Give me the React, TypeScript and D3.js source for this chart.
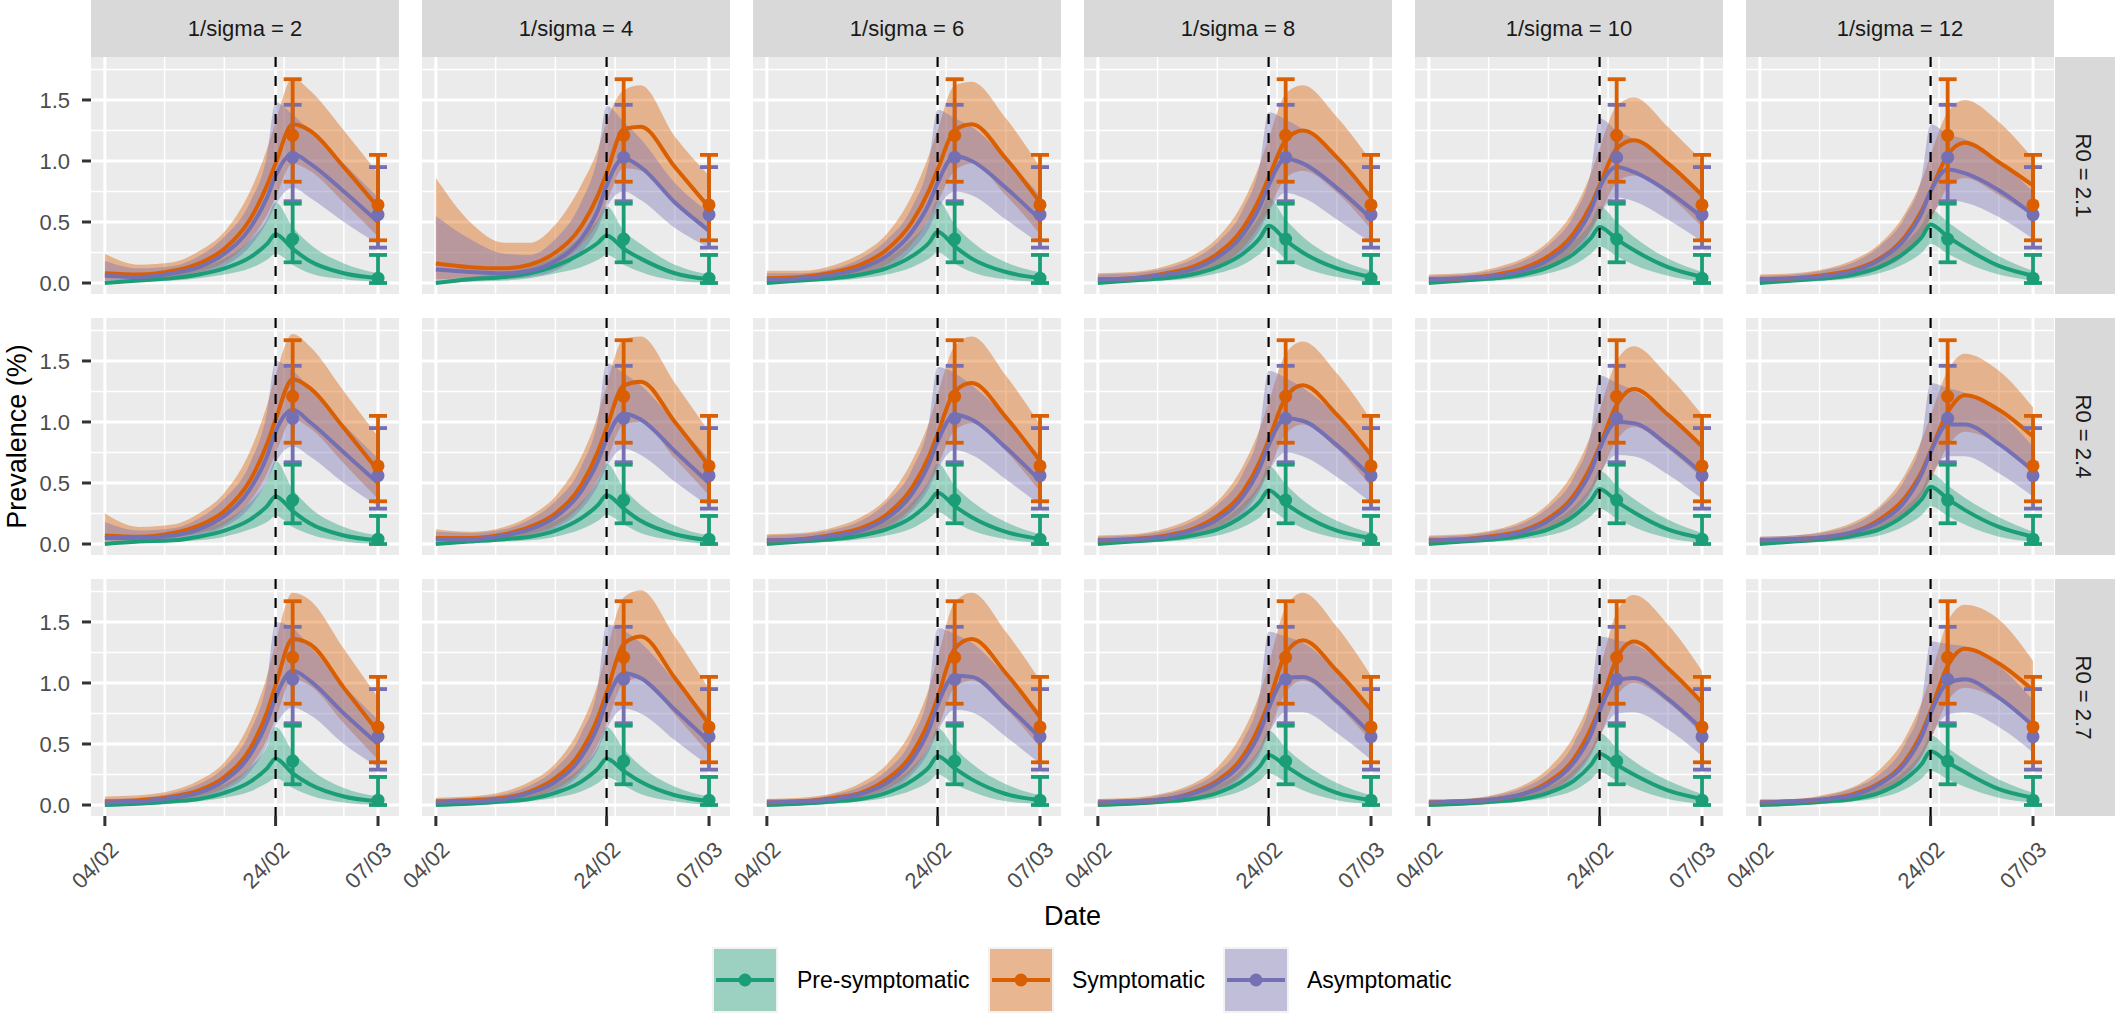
import React from 'react';
import * as d3 from 'd3';

// model output dates (curves) and survey dates (points)
const dates = ['2020-02-04', '2020-02-08', '2020-02-12', '2020-02-15', '2020-02-18', '2020-02-21',
    '2020-02-23', '2020-02-24', '2020-02-26', '2020-02-28', '2020-03-03', '2020-03-07'];
const obsDates = ['2020-02-26', '2020-03-07'];
const lockdownDate = '2020-02-24';
const xTickDates = ['2020-02-04', '2020-02-24', '2020-03-07'];
const xMinorDates = ['2020-02-11', '2020-02-18', '2020-02-25', '2020-03-03'];
const yTicks = [0, 0.5, 1, 1.5];
const yMinor = [0.25, 0.75, 1.25, 1.75];

const sigmaLabels = ['1/sigma = 2', '1/sigma = 4', '1/sigma = 6', '1/sigma = 8', '1/sigma = 10', '1/sigma = 12'];
const r0Labels = ['R0 = 2.1', 'R0 = 2.4', 'R0 = 2.7'];
const classes = ['Pre-symptomatic', 'Symptomatic', 'Asymptomatic'];
const colours = ['#1B9E77', '#D95F02', '#7570B3'];

// one row per panel, rows R0 = 2.1, 2.4, 2.7, columns 1/sigma = 2..12
const preMean = [
    [0.0, 0.02, 0.04, 0.07, 0.12, 0.21, 0.32, 0.40, 0.28, 0.18, 0.08, 0.04],
    [0.0, 0.03, 0.05, 0.08, 0.14, 0.24, 0.33, 0.39, 0.28, 0.20, 0.08, 0.03],
    [0.0, 0.02, 0.04, 0.07, 0.12, 0.22, 0.33, 0.42, 0.30, 0.20, 0.09, 0.04],
    [0.0, 0.02, 0.04, 0.07, 0.13, 0.24, 0.37, 0.47, 0.35, 0.25, 0.12, 0.05],
    [0.0, 0.02, 0.04, 0.07, 0.13, 0.24, 0.37, 0.46, 0.36, 0.27, 0.13, 0.05],
    [0.0, 0.02, 0.04, 0.07, 0.13, 0.25, 0.38, 0.48, 0.38, 0.29, 0.14, 0.06],
    [0.0, 0.02, 0.03, 0.06, 0.11, 0.20, 0.31, 0.39, 0.27, 0.17, 0.07, 0.03],
    [0.0, 0.02, 0.04, 0.06, 0.11, 0.21, 0.32, 0.40, 0.29, 0.19, 0.08, 0.03],
    [0.0, 0.02, 0.04, 0.07, 0.12, 0.22, 0.34, 0.42, 0.31, 0.22, 0.10, 0.04],
    [0.0, 0.02, 0.04, 0.07, 0.12, 0.23, 0.35, 0.44, 0.33, 0.24, 0.11, 0.05],
    [0.0, 0.02, 0.04, 0.07, 0.12, 0.23, 0.36, 0.45, 0.35, 0.26, 0.12, 0.05],
    [0.0, 0.02, 0.04, 0.07, 0.12, 0.24, 0.37, 0.47, 0.37, 0.28, 0.14, 0.06],
    [0.0, 0.01, 0.03, 0.05, 0.10, 0.19, 0.30, 0.38, 0.26, 0.17, 0.07, 0.03],
    [0.0, 0.01, 0.03, 0.05, 0.10, 0.19, 0.30, 0.38, 0.28, 0.19, 0.08, 0.03],
    [0.0, 0.01, 0.03, 0.05, 0.10, 0.20, 0.31, 0.40, 0.30, 0.21, 0.09, 0.04],
    [0.0, 0.01, 0.03, 0.05, 0.10, 0.20, 0.32, 0.41, 0.32, 0.23, 0.10, 0.04],
    [0.0, 0.01, 0.03, 0.05, 0.10, 0.20, 0.33, 0.42, 0.33, 0.25, 0.12, 0.05],
    [0.0, 0.01, 0.03, 0.05, 0.10, 0.21, 0.34, 0.44, 0.35, 0.27, 0.13, 0.06],
];
const preLow = [
    [0.0, 0.01, 0.02, 0.04, 0.07, 0.12, 0.19, 0.24, 0.15, 0.08, 0.03, 0.01],
    [0.0, 0.01, 0.02, 0.04, 0.08, 0.13, 0.19, 0.23, 0.15, 0.09, 0.02, 0.0],
    [0.0, 0.01, 0.02, 0.04, 0.07, 0.13, 0.20, 0.25, 0.16, 0.09, 0.03, 0.01],
    [0.0, 0.01, 0.02, 0.04, 0.08, 0.15, 0.24, 0.30, 0.20, 0.13, 0.05, 0.01],
    [0.0, 0.01, 0.02, 0.04, 0.08, 0.15, 0.24, 0.30, 0.22, 0.15, 0.06, 0.01],
    [0.0, 0.01, 0.02, 0.04, 0.08, 0.16, 0.25, 0.32, 0.24, 0.17, 0.07, 0.02],
    [0.0, 0.01, 0.02, 0.03, 0.06, 0.12, 0.18, 0.23, 0.14, 0.08, 0.02, 0.0],
    [0.0, 0.01, 0.02, 0.03, 0.06, 0.12, 0.19, 0.24, 0.16, 0.09, 0.03, 0.0],
    [0.0, 0.01, 0.02, 0.04, 0.07, 0.13, 0.21, 0.26, 0.18, 0.11, 0.04, 0.01],
    [0.0, 0.01, 0.02, 0.04, 0.07, 0.14, 0.22, 0.28, 0.20, 0.13, 0.05, 0.01],
    [0.0, 0.01, 0.02, 0.04, 0.07, 0.14, 0.23, 0.29, 0.21, 0.14, 0.05, 0.01],
    [0.0, 0.01, 0.02, 0.04, 0.07, 0.15, 0.24, 0.31, 0.23, 0.16, 0.06, 0.02],
    [0.0, 0.0, 0.01, 0.03, 0.06, 0.11, 0.18, 0.22, 0.14, 0.08, 0.02, 0.0],
    [0.0, 0.0, 0.01, 0.03, 0.06, 0.11, 0.18, 0.23, 0.16, 0.09, 0.03, 0.0],
    [0.0, 0.0, 0.01, 0.03, 0.06, 0.12, 0.19, 0.25, 0.17, 0.11, 0.03, 0.01],
    [0.0, 0.0, 0.01, 0.03, 0.06, 0.12, 0.20, 0.26, 0.19, 0.12, 0.04, 0.01],
    [0.0, 0.0, 0.01, 0.03, 0.06, 0.12, 0.21, 0.27, 0.20, 0.14, 0.05, 0.01],
    [0.0, 0.0, 0.01, 0.03, 0.06, 0.13, 0.22, 0.28, 0.21, 0.15, 0.06, 0.02],
];
const preHigh = [
    [0.01, 0.04, 0.07, 0.12, 0.20, 0.35, 0.52, 0.66, 0.46, 0.32, 0.16, 0.08],
    [0.01, 0.05, 0.08, 0.13, 0.22, 0.38, 0.52, 0.63, 0.43, 0.32, 0.15, 0.07],
    [0.01, 0.04, 0.07, 0.12, 0.20, 0.36, 0.52, 0.68, 0.48, 0.34, 0.17, 0.09],
    [0.01, 0.04, 0.07, 0.12, 0.21, 0.37, 0.56, 0.70, 0.52, 0.38, 0.20, 0.10],
    [0.01, 0.03, 0.06, 0.11, 0.19, 0.34, 0.50, 0.63, 0.50, 0.38, 0.20, 0.09],
    [0.01, 0.03, 0.06, 0.10, 0.18, 0.33, 0.48, 0.60, 0.50, 0.40, 0.22, 0.10],
    [0.01, 0.04, 0.06, 0.11, 0.19, 0.34, 0.52, 0.68, 0.45, 0.30, 0.14, 0.07],
    [0.01, 0.04, 0.06, 0.11, 0.19, 0.34, 0.52, 0.66, 0.46, 0.32, 0.15, 0.07],
    [0.01, 0.04, 0.06, 0.11, 0.19, 0.34, 0.52, 0.66, 0.48, 0.35, 0.18, 0.08],
    [0.01, 0.03, 0.06, 0.10, 0.18, 0.33, 0.50, 0.64, 0.49, 0.36, 0.19, 0.09],
    [0.01, 0.03, 0.05, 0.10, 0.17, 0.31, 0.47, 0.60, 0.48, 0.37, 0.20, 0.09],
    [0.01, 0.03, 0.05, 0.09, 0.16, 0.30, 0.45, 0.58, 0.48, 0.38, 0.22, 0.10],
    [0.01, 0.03, 0.05, 0.09, 0.17, 0.31, 0.48, 0.64, 0.44, 0.30, 0.14, 0.07],
    [0.01, 0.03, 0.05, 0.09, 0.17, 0.31, 0.48, 0.64, 0.46, 0.32, 0.15, 0.07],
    [0.01, 0.03, 0.05, 0.09, 0.17, 0.31, 0.48, 0.63, 0.47, 0.34, 0.17, 0.08],
    [0.01, 0.03, 0.05, 0.09, 0.16, 0.30, 0.47, 0.61, 0.47, 0.35, 0.18, 0.08],
    [0.01, 0.03, 0.05, 0.08, 0.15, 0.29, 0.45, 0.59, 0.47, 0.36, 0.20, 0.09],
    [0.01, 0.03, 0.05, 0.08, 0.15, 0.28, 0.44, 0.57, 0.47, 0.37, 0.21, 0.10],
];

const symMean = [
    [0.08, 0.07, 0.10, 0.16, 0.28, 0.52, 0.80, 0.98, 1.30, 1.25, 0.95, 0.62],
    [0.16, 0.13, 0.12, 0.15, 0.25, 0.46, 0.72, 0.90, 1.26, 1.28, 0.95, 0.62],
    [0.04, 0.05, 0.09, 0.15, 0.27, 0.50, 0.76, 0.93, 1.25, 1.30, 1.02, 0.66],
    [0.03, 0.04, 0.08, 0.13, 0.24, 0.45, 0.70, 0.86, 1.17, 1.25, 1.03, 0.70],
    [0.03, 0.04, 0.07, 0.12, 0.22, 0.41, 0.64, 0.80, 1.10, 1.17, 0.98, 0.72],
    [0.03, 0.04, 0.07, 0.11, 0.20, 0.38, 0.60, 0.75, 1.05, 1.15, 0.99, 0.80],
    [0.07, 0.06, 0.09, 0.15, 0.27, 0.52, 0.82, 1.02, 1.35, 1.28, 0.95, 0.60],
    [0.05, 0.05, 0.08, 0.14, 0.25, 0.48, 0.76, 0.95, 1.30, 1.33, 1.00, 0.64],
    [0.03, 0.04, 0.08, 0.13, 0.24, 0.46, 0.72, 0.90, 1.25, 1.32, 1.04, 0.68],
    [0.03, 0.04, 0.07, 0.12, 0.23, 0.43, 0.68, 0.85, 1.20, 1.30, 1.06, 0.73],
    [0.03, 0.04, 0.07, 0.11, 0.21, 0.40, 0.64, 0.80, 1.14, 1.27, 1.06, 0.80],
    [0.03, 0.04, 0.06, 0.10, 0.20, 0.38, 0.60, 0.76, 1.08, 1.22, 1.10, 0.88],
    [0.03, 0.04, 0.07, 0.12, 0.23, 0.46, 0.76, 0.98, 1.36, 1.32, 0.96, 0.60],
    [0.03, 0.04, 0.06, 0.11, 0.22, 0.44, 0.72, 0.92, 1.32, 1.38, 1.04, 0.66],
    [0.02, 0.03, 0.06, 0.10, 0.21, 0.42, 0.69, 0.88, 1.28, 1.36, 1.08, 0.72],
    [0.02, 0.03, 0.05, 0.10, 0.20, 0.40, 0.66, 0.84, 1.24, 1.35, 1.10, 0.78],
    [0.02, 0.03, 0.05, 0.09, 0.19, 0.38, 0.63, 0.80, 1.20, 1.34, 1.12, 0.84],
    [0.02, 0.03, 0.05, 0.09, 0.18, 0.36, 0.60, 0.77, 1.14, 1.28, 1.16, 0.94],
];
const symLow = [
    [0.02, 0.03, 0.05, 0.09, 0.17, 0.35, 0.56, 0.70, 0.98, 0.92, 0.66, 0.38],
    [0.03, 0.04, 0.05, 0.08, 0.15, 0.31, 0.50, 0.66, 0.94, 0.92, 0.66, 0.40],
    [0.01, 0.02, 0.04, 0.08, 0.15, 0.32, 0.52, 0.66, 0.92, 0.98, 0.72, 0.40],
    [0.01, 0.02, 0.04, 0.07, 0.14, 0.29, 0.48, 0.60, 0.86, 0.92, 0.74, 0.44],
    [0.01, 0.02, 0.03, 0.06, 0.13, 0.27, 0.44, 0.56, 0.82, 0.88, 0.72, 0.46],
    [0.01, 0.02, 0.03, 0.06, 0.12, 0.25, 0.41, 0.52, 0.78, 0.86, 0.72, 0.55],
    [0.02, 0.03, 0.05, 0.09, 0.16, 0.35, 0.58, 0.74, 1.02, 0.95, 0.66, 0.37],
    [0.01, 0.02, 0.04, 0.08, 0.15, 0.32, 0.53, 0.68, 0.98, 1.00, 0.70, 0.40],
    [0.01, 0.02, 0.04, 0.07, 0.14, 0.30, 0.50, 0.64, 0.93, 0.99, 0.76, 0.43],
    [0.01, 0.02, 0.03, 0.07, 0.14, 0.28, 0.47, 0.60, 0.90, 0.98, 0.78, 0.47],
    [0.01, 0.02, 0.03, 0.06, 0.13, 0.26, 0.44, 0.56, 0.85, 0.96, 0.78, 0.54],
    [0.01, 0.02, 0.03, 0.06, 0.12, 0.25, 0.41, 0.53, 0.80, 0.92, 0.82, 0.60],
    [0.01, 0.02, 0.03, 0.07, 0.14, 0.31, 0.54, 0.71, 1.03, 0.98, 0.67, 0.37],
    [0.01, 0.02, 0.03, 0.06, 0.13, 0.29, 0.50, 0.66, 1.00, 1.04, 0.74, 0.42],
    [0.01, 0.01, 0.03, 0.06, 0.13, 0.28, 0.48, 0.62, 0.96, 1.02, 0.79, 0.47],
    [0.01, 0.01, 0.03, 0.05, 0.12, 0.26, 0.45, 0.59, 0.92, 1.02, 0.82, 0.52],
    [0.01, 0.01, 0.02, 0.05, 0.11, 0.25, 0.43, 0.56, 0.89, 1.00, 0.84, 0.58],
    [0.01, 0.01, 0.02, 0.05, 0.11, 0.24, 0.41, 0.54, 0.85, 0.96, 0.86, 0.66],
];
const symHigh = [
    [0.24, 0.15, 0.17, 0.26, 0.42, 0.75, 1.10, 1.32, 1.68, 1.58, 1.25, 0.90],
    [0.86, 0.50, 0.33, 0.33, 0.48, 0.80, 1.10, 1.32, 1.58, 1.62, 1.20, 0.88],
    [0.10, 0.10, 0.15, 0.24, 0.40, 0.72, 1.05, 1.25, 1.62, 1.65, 1.35, 0.95],
    [0.08, 0.09, 0.14, 0.22, 0.37, 0.66, 0.98, 1.18, 1.55, 1.62, 1.36, 1.00],
    [0.07, 0.08, 0.13, 0.20, 0.34, 0.60, 0.90, 1.10, 1.45, 1.52, 1.28, 1.00],
    [0.07, 0.08, 0.12, 0.19, 0.32, 0.57, 0.85, 1.05, 1.40, 1.50, 1.32, 1.02],
    [0.25, 0.14, 0.16, 0.25, 0.42, 0.76, 1.14, 1.38, 1.72, 1.62, 1.25, 0.88],
    [0.12, 0.10, 0.14, 0.23, 0.39, 0.71, 1.06, 1.30, 1.68, 1.70, 1.32, 0.92],
    [0.08, 0.09, 0.14, 0.22, 0.37, 0.68, 1.00, 1.22, 1.62, 1.70, 1.38, 0.98],
    [0.07, 0.08, 0.13, 0.21, 0.35, 0.64, 0.95, 1.16, 1.56, 1.66, 1.40, 1.02],
    [0.07, 0.08, 0.12, 0.19, 0.33, 0.60, 0.90, 1.10, 1.50, 1.62, 1.38, 1.06],
    [0.06, 0.07, 0.11, 0.18, 0.31, 0.57, 0.86, 1.05, 1.42, 1.56, 1.42, 1.12],
    [0.07, 0.08, 0.12, 0.20, 0.35, 0.68, 1.06, 1.33, 1.74, 1.68, 1.28, 0.88],
    [0.06, 0.07, 0.11, 0.19, 0.34, 0.65, 1.00, 1.25, 1.70, 1.76, 1.38, 0.95],
    [0.05, 0.06, 0.10, 0.18, 0.33, 0.62, 0.96, 1.20, 1.66, 1.74, 1.42, 1.02],
    [0.05, 0.06, 0.10, 0.17, 0.31, 0.60, 0.92, 1.15, 1.62, 1.74, 1.46, 1.06],
    [0.05, 0.05, 0.09, 0.16, 0.30, 0.57, 0.88, 1.10, 1.58, 1.72, 1.48, 1.10],
    [0.05, 0.05, 0.09, 0.15, 0.29, 0.55, 0.85, 1.05, 1.50, 1.64, 1.52, 1.18],
];

const asyMean = [
    [0.06, 0.05, 0.08, 0.13, 0.24, 0.45, 0.70, 0.88, 1.06, 0.98, 0.75, 0.50],
    [0.11, 0.09, 0.08, 0.10, 0.18, 0.36, 0.60, 0.80, 1.02, 0.95, 0.66, 0.43],
    [0.03, 0.04, 0.07, 0.12, 0.22, 0.42, 0.65, 0.82, 1.04, 1.00, 0.78, 0.52],
    [0.03, 0.04, 0.07, 0.11, 0.21, 0.40, 0.63, 0.80, 1.02, 0.98, 0.78, 0.53],
    [0.03, 0.04, 0.06, 0.10, 0.19, 0.37, 0.60, 0.78, 0.95, 0.91, 0.75, 0.54],
    [0.03, 0.04, 0.06, 0.10, 0.19, 0.36, 0.58, 0.75, 0.93, 0.90, 0.76, 0.56],
    [0.05, 0.05, 0.07, 0.12, 0.23, 0.45, 0.72, 0.92, 1.10, 1.00, 0.75, 0.50],
    [0.04, 0.04, 0.07, 0.12, 0.22, 0.43, 0.68, 0.86, 1.07, 1.02, 0.76, 0.50],
    [0.03, 0.04, 0.07, 0.11, 0.21, 0.41, 0.66, 0.84, 1.06, 1.02, 0.79, 0.52],
    [0.03, 0.04, 0.06, 0.11, 0.20, 0.39, 0.63, 0.81, 1.03, 1.01, 0.81, 0.55],
    [0.03, 0.04, 0.06, 0.10, 0.19, 0.37, 0.60, 0.78, 1.00, 0.99, 0.81, 0.58],
    [0.03, 0.04, 0.06, 0.10, 0.18, 0.35, 0.58, 0.75, 0.98, 0.98, 0.82, 0.60],
    [0.02, 0.03, 0.06, 0.10, 0.20, 0.41, 0.68, 0.88, 1.10, 1.02, 0.75, 0.50],
    [0.02, 0.03, 0.05, 0.10, 0.19, 0.39, 0.65, 0.85, 1.08, 1.04, 0.78, 0.52],
    [0.02, 0.03, 0.05, 0.09, 0.18, 0.37, 0.62, 0.82, 1.06, 1.05, 0.82, 0.55],
    [0.02, 0.03, 0.05, 0.09, 0.18, 0.36, 0.60, 0.79, 1.04, 1.05, 0.85, 0.58],
    [0.02, 0.03, 0.05, 0.09, 0.17, 0.35, 0.58, 0.77, 1.02, 1.04, 0.87, 0.62],
    [0.02, 0.03, 0.05, 0.08, 0.17, 0.34, 0.57, 0.75, 1.00, 1.03, 0.88, 0.65],
];
const asyLow = [
    [0.01, 0.02, 0.04, 0.07, 0.14, 0.30, 0.50, 0.64, 0.78, 0.70, 0.50, 0.32],
    [0.01, 0.02, 0.03, 0.05, 0.10, 0.25, 0.45, 0.62, 0.75, 0.68, 0.45, 0.29],
    [0.01, 0.02, 0.03, 0.06, 0.12, 0.27, 0.45, 0.60, 0.75, 0.72, 0.52, 0.32],
    [0.01, 0.02, 0.03, 0.06, 0.12, 0.26, 0.44, 0.58, 0.74, 0.70, 0.52, 0.33],
    [0.01, 0.02, 0.03, 0.05, 0.11, 0.24, 0.42, 0.56, 0.70, 0.67, 0.52, 0.34],
    [0.01, 0.02, 0.03, 0.05, 0.11, 0.23, 0.40, 0.54, 0.68, 0.66, 0.54, 0.36],
    [0.01, 0.02, 0.04, 0.07, 0.14, 0.30, 0.52, 0.67, 0.80, 0.72, 0.50, 0.31],
    [0.01, 0.02, 0.03, 0.06, 0.13, 0.28, 0.48, 0.63, 0.78, 0.73, 0.51, 0.31],
    [0.01, 0.02, 0.03, 0.06, 0.12, 0.27, 0.46, 0.61, 0.77, 0.73, 0.53, 0.32],
    [0.01, 0.02, 0.03, 0.06, 0.12, 0.25, 0.44, 0.59, 0.75, 0.72, 0.55, 0.34],
    [0.01, 0.02, 0.03, 0.05, 0.11, 0.24, 0.42, 0.57, 0.73, 0.72, 0.57, 0.37],
    [0.01, 0.02, 0.03, 0.05, 0.11, 0.23, 0.40, 0.55, 0.72, 0.72, 0.58, 0.39],
    [0.01, 0.01, 0.03, 0.06, 0.12, 0.27, 0.49, 0.65, 0.80, 0.74, 0.50, 0.31],
    [0.01, 0.01, 0.03, 0.05, 0.11, 0.26, 0.46, 0.62, 0.79, 0.75, 0.53, 0.32],
    [0.01, 0.01, 0.03, 0.05, 0.11, 0.25, 0.44, 0.60, 0.78, 0.76, 0.56, 0.34],
    [0.01, 0.01, 0.03, 0.05, 0.10, 0.24, 0.42, 0.58, 0.76, 0.76, 0.59, 0.37],
    [0.01, 0.01, 0.02, 0.05, 0.10, 0.23, 0.41, 0.56, 0.75, 0.76, 0.62, 0.40],
    [0.01, 0.01, 0.02, 0.05, 0.10, 0.22, 0.40, 0.55, 0.74, 0.76, 0.64, 0.43],
];
const asyHigh = [
    [0.18, 0.12, 0.14, 0.22, 0.38, 0.66, 1.05, 1.48, 1.38, 1.25, 0.98, 0.70],
    [0.55, 0.36, 0.24, 0.23, 0.36, 0.66, 1.05, 1.45, 1.32, 1.18, 0.82, 0.58],
    [0.08, 0.08, 0.12, 0.20, 0.35, 0.62, 1.00, 1.42, 1.35, 1.28, 1.02, 0.72],
    [0.07, 0.08, 0.12, 0.19, 0.33, 0.60, 0.98, 1.40, 1.34, 1.26, 1.02, 0.72],
    [0.06, 0.07, 0.11, 0.18, 0.31, 0.56, 0.92, 1.35, 1.25, 1.18, 0.98, 0.72],
    [0.06, 0.07, 0.11, 0.17, 0.30, 0.54, 0.88, 1.30, 1.22, 1.18, 1.00, 0.75],
    [0.18, 0.11, 0.13, 0.21, 0.37, 0.66, 1.08, 1.50, 1.42, 1.28, 0.98, 0.70],
    [0.10, 0.09, 0.12, 0.20, 0.35, 0.63, 1.03, 1.48, 1.40, 1.30, 1.00, 0.70],
    [0.07, 0.08, 0.12, 0.19, 0.34, 0.61, 1.00, 1.45, 1.40, 1.30, 1.04, 0.72],
    [0.06, 0.07, 0.11, 0.18, 0.32, 0.58, 0.96, 1.42, 1.36, 1.28, 1.05, 0.75],
    [0.06, 0.07, 0.11, 0.17, 0.30, 0.55, 0.92, 1.38, 1.32, 1.26, 1.06, 0.78],
    [0.06, 0.07, 0.10, 0.16, 0.29, 0.53, 0.88, 1.32, 1.28, 1.24, 1.08, 0.80],
    [0.05, 0.06, 0.10, 0.17, 0.31, 0.60, 1.02, 1.50, 1.45, 1.30, 0.98, 0.70],
    [0.05, 0.06, 0.09, 0.16, 0.30, 0.58, 0.98, 1.48, 1.43, 1.33, 1.02, 0.72],
    [0.05, 0.05, 0.09, 0.15, 0.28, 0.55, 0.95, 1.45, 1.40, 1.33, 1.06, 0.76],
    [0.05, 0.05, 0.09, 0.15, 0.27, 0.53, 0.92, 1.42, 1.38, 1.33, 1.10, 0.80],
    [0.04, 0.05, 0.08, 0.14, 0.26, 0.51, 0.88, 1.38, 1.35, 1.32, 1.12, 0.84],
    [0.04, 0.05, 0.08, 0.14, 0.25, 0.50, 0.86, 1.34, 1.32, 1.30, 1.14, 0.86],
];

// survey estimates, one row per class (pre, sym, asy), columns = survey dates
const obsMean = [[0.36, 0.04], [1.21, 0.64], [1.03, 0.56]];
const obsLow = [[0.17, 0.0], [0.83, 0.35], [0.67, 0.29]];
const obsHigh = [[0.65, 0.23], [1.67, 1.05], [1.46, 0.95]];

const classMean = [preMean, symMean, asyMean];
const classLow = [preLow, symLow, asyLow];
const classHigh = [preHigh, symHigh, asyHigh];

const W = 2115;
const H = 1016;
const panelW = 308;
const panelH = 237;
const left = 91;
const top = 57;
const colStep = 331;
const rowStep = 261;
const stripH = 57;
const font = '"Liberation Sans", Arial, Helvetica, sans-serif';

export default function App() {
    const parse = d3.timeParse('%Y-%m-%d');
    const fmt = d3.timeFormat('%d/%m');
    const t = dates.map(parse);

    const x = d3.scaleTime()
        .domain([d3.timeHour.offset(parse(dates[0]), -39), d3.timeHour.offset(parse(obsDates[1]), 59)])
        .range([0, panelW]);
    const y = d3.scaleLinear()
        .domain([-0.09, 1.852])
        .range([panelH, 0]);

    const ribbon = (lo, hi) => d3.area()
        .x((d, i) => x(t[i]))
        .y0((d, i) => y(lo[i]))
        .y1((d, i) => y(hi[i]))
        .curve(d3.curveMonotoneX)(dates);
    const line = (v) => d3.line()
        .x((d, i) => x(t[i]))
        .y((d, i) => y(v[i]))
        .curve(d3.curveMonotoneX)(dates);

    const panels = [];
    r0Labels.forEach((r0, r) => {
        sigmaLabels.forEach((sg, c) => {
            const k = r * 6 + c;
            const px = left + c * colStep;
            const py = top + r * rowStep;
            panels.push(
                <g key={k} transform={`translate(${px},${py})`}>
                    <rect width={panelW} height={panelH} fill="#EBEBEB" />
                    {yMinor.map((v) => (
                        <line key={'ym' + v} x1={0} x2={panelW} y1={y(v)} y2={y(v)} stroke="#fff" strokeWidth={1.5} />
                    ))}
                    {xMinorDates.map((d) => (
                        <line key={'xm' + d} y1={0} y2={panelH} x1={x(parse(d))} x2={x(parse(d))} stroke="#fff" strokeWidth={1.5} />
                    ))}
                    {yTicks.map((v) => (
                        <line key={'y' + v} x1={0} x2={panelW} y1={y(v)} y2={y(v)} stroke="#fff" strokeWidth={3} />
                    ))}
                    {xTickDates.map((d) => (
                        <line key={'x' + d} y1={0} y2={panelH} x1={x(parse(d))} x2={x(parse(d))} stroke="#fff" strokeWidth={3} />
                    ))}
                    {classes.map((cl, j) => (
                        <path key={'rb' + j} d={ribbon(classLow[j][k], classHigh[j][k])} fill={colours[j]} fillOpacity={0.4} />
                    ))}
                    {classes.map((cl, j) => (
                        <path key={'ln' + j} d={line(classMean[j][k])} fill="none" stroke={colours[j]} strokeWidth={4} strokeLinejoin="round" />
                    ))}
                    <line x1={x(parse(lockdownDate))} x2={x(parse(lockdownDate))} y1={0} y2={panelH}
                        stroke="#000" strokeWidth={2.2} strokeDasharray="10 9" />
                    {[2, 1, 0].map((j) => obsDates.map((od, m) => {
                        const ox = x(parse(od));
                        return (
                            <g key={'eb' + j + m} stroke={colours[j]} strokeWidth={3.8}>
                                <line x1={ox} x2={ox} y1={y(obsLow[j][m])} y2={y(obsHigh[j][m])} />
                                <line x1={ox - 9} x2={ox + 9} y1={y(obsLow[j][m])} y2={y(obsLow[j][m])} />
                                <line x1={ox - 9} x2={ox + 9} y1={y(obsHigh[j][m])} y2={y(obsHigh[j][m])} />
                            </g>
                        );
                    }))}
                    {[2, 1, 0].map((j) => obsDates.map((od, m) => (
                        <circle key={'pt' + j + m} cx={x(parse(od))} cy={y(obsMean[j][m])} r={6.5} fill={colours[j]} />
                    )))}
                </g>
            );
        });
    });

    const legendX = [712, 988, 1223];
    const legendTextX = [797, 1072, 1307];

    return (
        <svg width={W} height={H} style={{ position: 'absolute', left: 0, top: 0, background: '#fff' }} fontFamily={font}>
            {/* column strips */}
            {sigmaLabels.map((s, c) => (
                <g key={s} transform={`translate(${left + c * colStep},0)`}>
                    <rect width={panelW} height={stripH} fill="#D9D9D9" />
                    <text x={panelW / 2} y={stripH / 2} dy="0.36em" textAnchor="middle" fontSize={22} fill="#1A1A1A">{s}</text>
                </g>
            ))}
            {/* row strips */}
            {r0Labels.map((s, r) => (
                <g key={s} transform={`translate(${left + 5 * colStep + panelW + 1},${top + r * rowStep})`}>
                    <rect width={W - (left + 5 * colStep + panelW + 1)} height={panelH} fill="#D9D9D9" />
                    <text transform={`translate(29,${panelH / 2}) rotate(90)`} dy="0.36em" textAnchor="middle" fontSize={22} fill="#1A1A1A">{s}</text>
                </g>
            ))}
            {panels}
            {/* y axes */}
            {r0Labels.map((s, r) => (
                <g key={'ya' + r} transform={`translate(${left},${top + r * rowStep})`}>
                    {yTicks.map((v) => (
                        <g key={v}>
                            <line x1={-9} x2={0} y1={y(v)} y2={y(v)} stroke="#333" strokeWidth={3} />
                            <text x={-21} y={y(v)} dy="0.36em" textAnchor="end" fontSize={22} fill="#4D4D4D">{d3.format('.1f')(v)}</text>
                        </g>
                    ))}
                </g>
            ))}
            {/* x axes */}
            {sigmaLabels.map((s, c) => (
                <g key={'xa' + c} transform={`translate(${left + c * colStep},${top + 2 * rowStep + panelH})`}>
                    {xTickDates.map((d) => {
                        const tx = x(parse(d));
                        return (
                            <g key={d}>
                                <line x1={tx} x2={tx} y1={0} y2={10} stroke="#333" strokeWidth={3} />
                                <text transform={`translate(${tx + 15},${35}) rotate(-45)`} textAnchor="end" fontSize={22} fill="#4D4D4D">{fmt(parse(d))}</text>
                            </g>
                        );
                    })}
                </g>
            ))}
            {/* axis titles */}
            <text transform={`translate(26,${top + rowStep + panelH / 2}) rotate(-90)`} textAnchor="middle" fontSize={27} fill="#000">Prevalence (%)</text>
            <text x={left + (5 * colStep + panelW) / 2} y={925} textAnchor="middle" fontSize={27} fill="#000">Date</text>
            {/* legend */}
            {classes.map((cl, j) => (
                <g key={cl}>
                    <rect x={legendX[j]} y={947} width={66} height={66} fill="#F2F2F2" />
                    <rect x={legendX[j] + 2} y={949} width={62} height={62} fill={colours[j]} fillOpacity={0.4} />
                    <line x1={legendX[j] + 4} x2={legendX[j] + 62} y1={980} y2={980} stroke={colours[j]} strokeWidth={4} />
                    <circle cx={legendX[j] + 33} cy={980} r={6.5} fill={colours[j]} />
                    <text x={legendTextX[j]} y={980} dy="0.36em" fontSize={23} fill="#000">{cl}</text>
                </g>
            ))}
        </svg>
    );
}
